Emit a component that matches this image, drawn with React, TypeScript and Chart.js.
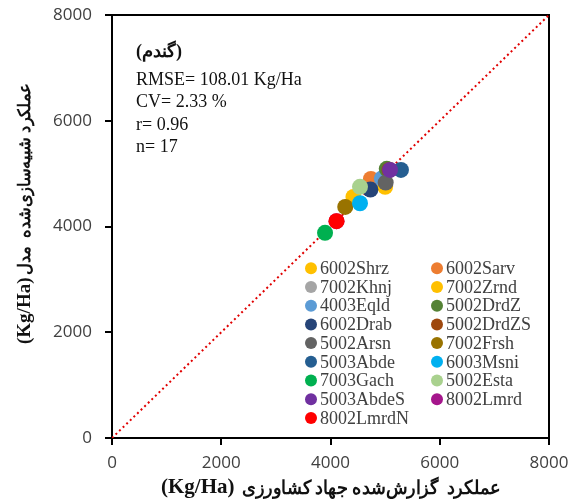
import React, { useEffect, useRef } from 'react';
import { Chart, registerables } from 'chart.js';

Chart.register(...registerables);

// ---- data ----
const stations = [
  '6002Shrz', '6002Sarv', '7002Khnj', '7002Zrnd', '4003Eqld', '5002DrdZ',
  '6002Drab', '5002DrdZS', '5002Arsn', '7002Frsh', '5003Abde', '6003Msni',
  '7003Gach', '5002Esta', '5003AbdeS', '8002Lmrd', '8002LmrdN',
];
const reported = [4420, 4740, 4990, 5000, 4940, 5030, 4730, 5080, 5010, 4270, 5290, 4540, 3900, 4540, 5090, 4110, 4110];
const simulated = [4560, 4900, 4790, 4750, 4910, 5090, 4700, 5070, 4830, 4370, 5070, 4440, 3880, 4750, 5070, 4100, 4100];
const stationColors = [
  '#FFC000', '#ED7D31', '#A5A5A5', '#FFC000', '#5B9BD5', '#548235',
  '#264478', '#9E480E', '#636363', '#997300', '#255E91', '#00B0F0',
  '#00B050', '#A9D18E', '#7030A0', '#A5168C', '#FF0000',
];
const oneToOneLine = [0, 8000];
const axisMin = 0;
const axisMax = 8000;
const axisStep = 2000;
const cropLabel = '(گندم)';
const statsLines = ['RMSE= 108.01 Kg/Ha', 'CV= 2.33 %', 'r= 0.96', 'n= 17'];
const unitLabel = '(Kg/Ha)';
const xTitleFa = 'عملکرد  گزارش‌شده جهاد کشاورزی';
const yTitleFa = 'عملکرد شبیه‌سازی‌شده  مدل';

const SERIF = '"Liberation Serif", "Times New Roman", "DejaVu Serif", serif';
const TICKFONT = '"Open Sans", "Noto Sans", sans-serif';

const decorPlugin = {
  id: 'decor',
  beforeDatasetsDraw(chart: any) {
    const { ctx, chartArea } = chart;
    ctx.save();
    ctx.strokeStyle = '#000';
    ctx.lineWidth = 2;
    ctx.strokeRect(chartArea.left, chartArea.top, chartArea.right - chartArea.left, chartArea.bottom - chartArea.top);
    ctx.restore();
  },
  afterDraw(chart: any) {
    const { ctx, chartArea } = chart;
    ctx.save();
    // stats block
    ctx.fillStyle = '#111';
    ctx.textBaseline = 'middle';
    ctx.textAlign = 'left';
    ctx.font = `bold 18px ${SERIF}`;
    ctx.fillText(cropLabel, chartArea.left + 24, 52);
    ctx.font = `18px ${SERIF}`;
    statsLines.forEach((t, i) => ctx.fillText(t, chartArea.left + 24, 80 + i * 22.5));

    // legend
    ctx.font = `18px ${SERIF}`;
    stations.forEach((name, i) => {
      const col = i % 2;
      const row = Math.floor(i / 2);
      const mx = col === 0 ? 311 : 437;
      const my = 268.3 + row * 18.7;
      ctx.beginPath();
      ctx.fillStyle = stationColors[i];
      ctx.arc(mx, my, 6, 0, Math.PI * 2);
      ctx.fill();
      ctx.fillStyle = '#404040';
      ctx.fillText(name, mx + 9, my + 1);
    });

    // x axis title: "(Kg/Ha)" then Persian words
    ctx.fillStyle = '#111';
    ctx.save();
    ctx.translate(0, 488);
    ctx.font = `bold 21px ${SERIF}`;
    ctx.textAlign = 'left';
    ctx.fillText(unitLabel, 161, 0);
    ctx.font = `bold 19px ${SERIF}`;
    ctx.direction = 'rtl';
    ctx.textAlign = 'right';
    ctx.fillText(xTitleFa, 500, 1, 258);
    ctx.restore();

    // y axis title (rotated)
    ctx.save();
    ctx.translate(25, 0);
    ctx.rotate(-Math.PI / 2);
    ctx.font = `bold 19px ${SERIF}`;
    ctx.textAlign = 'left';
    ctx.direction = 'ltr';
    ctx.fillText(unitLabel, -344, 0);
    ctx.font = `bold 17px ${SERIF}`;
    ctx.direction = 'rtl';
    ctx.textAlign = 'right';
    ctx.fillText(yTitleFa, -83, 1, 192);
    ctx.restore();

    ctx.restore();
  },
};

export default function App() {
  const ref = useRef<HTMLCanvasElement>(null);
  useEffect(() => {
    document.body.style.margin = '0';
    if (!ref.current) return;
    const datasets: any[] = stations.map((name, i) => ({
      type: 'scatter',
      label: name,
      data: [{ x: reported[i], y: simulated[i] }],
      backgroundColor: stationColors[i],
      borderColor: stationColors[i],
      borderWidth: 0,
      pointRadius: 8,
      pointHoverRadius: 8,
      order: 100 - i,
    }));
    datasets.push({
      type: 'line',
      label: '1:1',
      data: oneToOneLine.map((v) => ({ x: v, y: v })),
      borderColor: '#E00000',
      borderWidth: 2,
      borderDash: [2, 3],
      pointRadius: 0,
      fill: false,
      order: 1000,
    });
    const commonScale = (extra: any) => ({
      type: 'linear',
      min: axisMin,
      max: axisMax,
      ...extra,
      grid: { display: true, drawOnChartArea: false, drawTicks: true, tickLength: 7, color: '#000', lineWidth: 2 },
      border: { display: true, color: '#000', width: 2 },
    });
    const fmt = (v: any) => String(v);
    const chart = new Chart(ref.current, {
      type: 'scatter',
      data: { datasets },
      plugins: [decorPlugin],
      options: {
        animation: false,
        responsive: true,
        maintainAspectRatio: false,
        layout: { padding: { left: 0, right: 30, top: 15, bottom: 0 } },
        plugins: { legend: { display: false }, tooltip: { enabled: false } },
        scales: {
          x: commonScale({
            position: 'bottom',
            ticks: { stepSize: axisStep, color: '#404040', font: { family: TICKFONT, size: 17 }, padding: 8, maxRotation: 0, callback: fmt },
            afterFit: (s: any) => {
              s.height = 64;
              s.paddingLeft = 0;
              s.paddingRight = 0;
              s.paddingTop = 0;
              s.paddingBottom = 0;
            },
          }),
          y: commonScale({
            position: 'left',
            ticks: { stepSize: axisStep, color: '#404040', font: { family: TICKFONT, size: 17 }, padding: 13, callback: fmt },
            afterFit: (s: any) => {
              s.width = 112;
              s.paddingLeft = 0;
              s.paddingRight = 0;
              s.paddingTop = 0;
              s.paddingBottom = 0;
            },
          }),
        },
      } as any,
    });
    return () => chart.destroy();
  }, []);
  return (
    <div style={{ width: 579, height: 502, position: 'relative' }}>
      <canvas ref={ref} />
    </div>
  );
}
